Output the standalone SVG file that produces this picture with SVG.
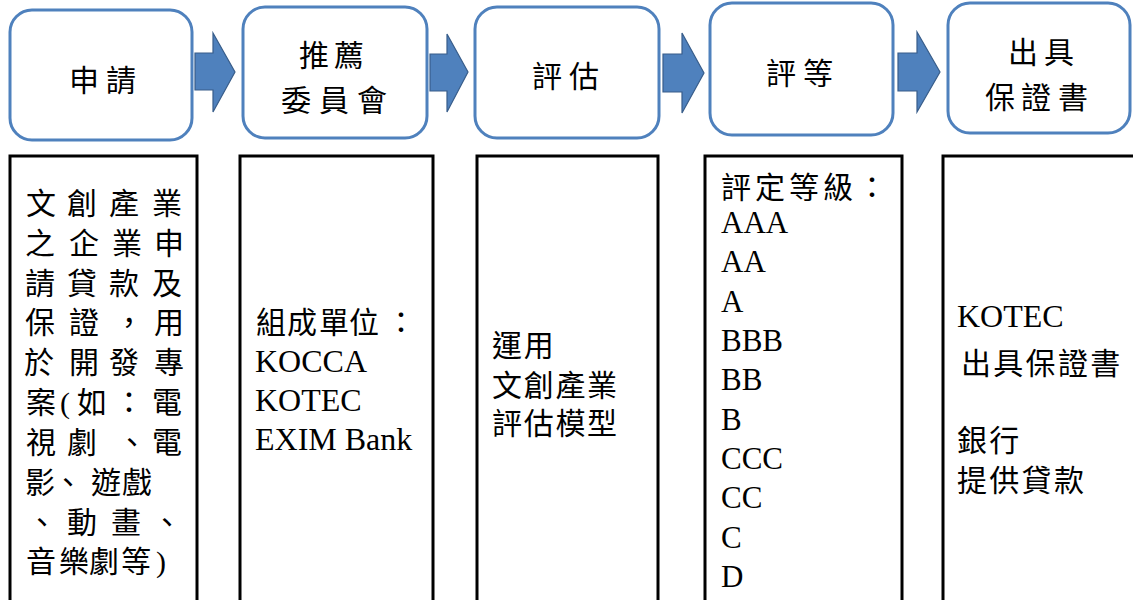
<svg xmlns="http://www.w3.org/2000/svg" width="1133" height="600" viewBox="0 0 1133 600">
<style>
.step{fill:#ffffff;stroke:#4f81bd;stroke-width:3}
.arrow{fill:#4f81bd;stroke:#385d8a;stroke-width:1.2}
.panel{fill:#ffffff;stroke:#000000;stroke-width:3}
text{font-family:"Liberation Serif","Noto Sans CJK TC",serif;fill:#000000}
.t{font-size:30px}
.l{font-size:32px}
.g{font-size:31px}
</style>
<rect width="1133" height="600" fill="#ffffff"/>
<g id="connectors">
<polygon class="arrow" points="195,53 213,53 213,33 235,72 213,112 213,90 195,90"/>
<polygon class="arrow" points="430,54 447,54 447,34 468,72 447,112 447,91 430,91"/>
<polygon class="arrow" points="663,54 682,54 682,33 704,73 682,113 682,92 663,92"/>
<polygon class="arrow" points="898,53 917,53 917,32 940,72 917,112 917,91 898,91"/>
</g>
<g id="step1">
<rect class="step" x="10" y="10" width="182" height="130" rx="22"/>
<text class="t" x="69 106" y="91">申請</text>
</g>
<g id="step2">
<rect class="step" x="243" y="7" width="184" height="131" rx="22"/>
<text class="t" x="299 334" y="66">推薦</text>
<text class="t" x="281 319 357" y="111">委員會</text>
</g>
<g id="step3">
<rect class="step" x="475" y="7" width="184" height="131" rx="22"/>
<text class="t" x="532 569" y="87">評估</text>
</g>
<g id="step4">
<rect class="step" x="710" y="3" width="183" height="132" rx="22"/>
<text class="t" x="766 803" y="84">評等</text>
</g>
<g id="step5">
<rect class="step" x="948" y="3" width="182" height="130" rx="22"/>
<text class="t" x="1008 1044" y="63">出具</text>
<text class="t" x="985 1021 1058" y="108">保證書</text>
</g>
<g id="panel1">
<rect class="panel" x="10" y="156" width="187" height="470"/>
<text class="t" x="26 67 109 152" y="214">文創產業</text>
<text class="t" x="25 69 112 154" y="254">之企業申</text>
<text class="t" x="25 67 109 152" y="294">請貸款及</text>
<text class="t" x="25 69 114 154" y="333">保證，用</text>
<text class="t" x="24 69 109 154" y="373">於開發專</text>
<text class="t" x="26 60 77 114 152" y="413">案(如：電</text>
<text class="t" x="26 67 117 152" y="453">視劇、電</text>
<text class="t" x="25 53 91 122" y="493">影、遊戲</text>
<text class="t" x="27 67 111 152" y="533">、動畫、</text>
<text class="t" x="26 59 89 121 156" y="572">音樂劇等)</text>
</g>
<g id="panel2">
<rect class="panel" x="240" y="156" width="193" height="470"/>
<text class="t" x="256 287 319 349 386" y="333">組成單位：</text>
<text class="l" x="255" y="372">KOCCA</text>
<text class="l" x="255" y="411">KOTEC</text>
<text class="l" x="255" y="450">EXIM Bank</text>
</g>
<g id="panel3">
<rect class="panel" x="477" y="156" width="181" height="470"/>
<text class="t" x="492" y="356" letter-spacing="1.7">運用</text>
<text class="t" x="492" y="396" letter-spacing="1.7">文創產業</text>
<text class="t" x="492" y="434" letter-spacing="1.7">評估模型</text>
</g>
<g id="panel4">
<rect class="panel" x="705" y="156" width="197" height="470"/>
<text class="t" x="721" y="198" letter-spacing="4">評定等級：</text>
<text class="g" x="721" y="232.5">AAA</text>
<text class="g" x="721" y="272">AA</text>
<text class="g" x="721" y="311.5">A</text>
<text class="g" x="721" y="351">BBB</text>
<text class="g" x="721" y="390">BB</text>
<text class="g" x="721" y="429.5">B</text>
<text class="g" x="721" y="469">CCC</text>
<text class="g" x="721" y="508">CC</text>
<text class="g" x="721" y="547.5">C</text>
<text class="g" x="721" y="587">D</text>
</g>
<g id="panel5">
<rect class="panel" x="943" y="156" width="220" height="470"/>
<text class="l" x="957" y="327">KOTEC</text>
<text class="t" x="961" y="374" letter-spacing="2.3">出具保證書</text>
<text class="t" x="957" y="451" letter-spacing="2.3">銀行</text>
<text class="t" x="957" y="491" letter-spacing="2.3">提供貸款</text>
</g>
</svg>
